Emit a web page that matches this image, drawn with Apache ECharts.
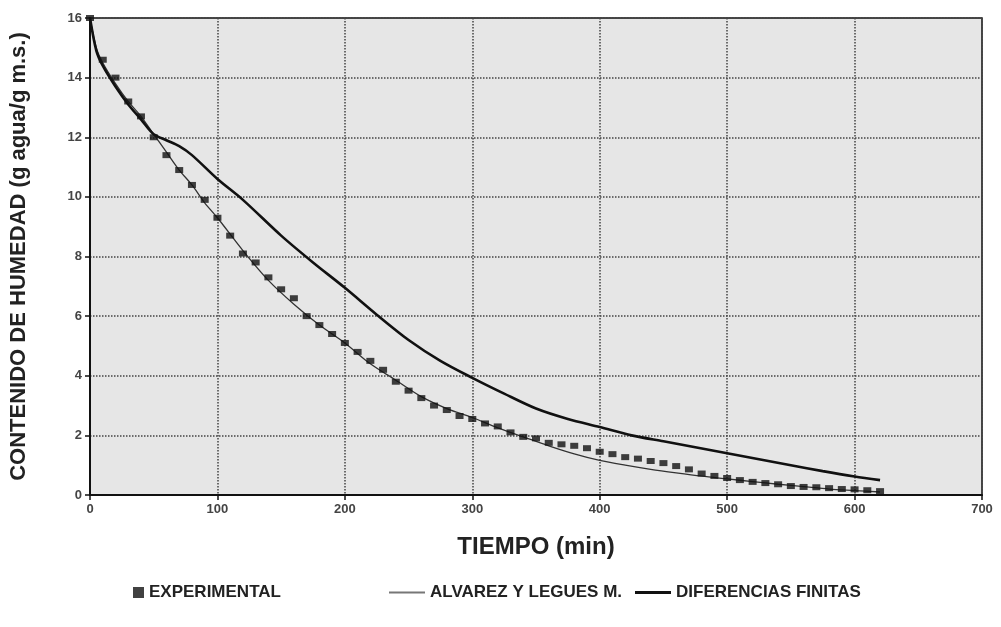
<!DOCTYPE html>
<html>
<head>
<meta charset="utf-8">
<script src="https://cdn.jsdelivr.net/npm/echarts@6/dist/echarts.min.js"></script>
<style>
  html, body { margin: 0; padding: 0; background: #fff; }
  #chart { width: 1001px; height: 627px; }
</style>
</head>
<body>
<div id="chart"></div>
<script>
// datos
const expTime = [0, 10, 20, 30, 40, 50, 60, 70, 80, 90, 100, 110, 120, 130, 140, 150, 160, 170, 180, 190,
  200, 210, 220, 230, 240, 250, 260, 270, 280, 290, 300, 310, 320, 330, 340, 350, 360, 370, 380, 390,
  400, 410, 420, 430, 440, 450, 460, 470, 480, 490, 500, 510, 520, 530, 540, 550, 560, 570, 580, 590,
  600, 610, 620];
const expMoisture = [16, 14.6, 14.0, 13.2, 12.7, 12.0, 11.4, 10.9, 10.4, 9.9, 9.3, 8.7, 8.1, 7.8, 7.3, 6.9, 6.6, 6.0, 5.7, 5.4,
  5.1, 4.8, 4.5, 4.2, 3.8, 3.5, 3.25, 3.0, 2.85, 2.65, 2.55, 2.4, 2.3, 2.1, 1.95, 1.9, 1.75, 1.7, 1.65, 1.57,
  1.45, 1.37, 1.27, 1.22, 1.14, 1.07, 0.97, 0.86, 0.72, 0.64, 0.57, 0.5, 0.44, 0.4, 0.36, 0.3, 0.27, 0.26, 0.23, 0.2,
  0.19, 0.16, 0.13];

const alvTime = [0, 5, 10, 20, 30, 40, 50, 60, 70, 80, 90, 100, 120, 140, 160, 180, 200, 220, 240, 260,
  280, 300, 320, 340, 360, 380, 400, 420, 440, 460, 480, 500, 520, 540, 560, 580, 600, 620];
const alvMoisture = [16, 15.0, 14.5, 13.8, 13.2, 12.7, 12.1, 11.5, 10.9, 10.4, 9.8, 9.3, 8.2, 7.2, 6.4, 5.7, 5.1, 4.4, 3.85, 3.3,
  2.9, 2.6, 2.25, 1.95, 1.65, 1.38, 1.16, 1.0, 0.86, 0.74, 0.63, 0.54, 0.45, 0.36, 0.28, 0.2, 0.15, 0.1];

const dfTime = [0, 5, 10, 20, 30, 40, 50, 60, 70, 80, 100, 120, 150, 175, 200, 225, 250, 275, 300, 325,
  350, 375, 400, 425, 450, 475, 500, 525, 550, 575, 600, 620];
const dfMoisture = [16, 14.9, 14.4, 13.7, 13.1, 12.6, 12.1, 11.9, 11.7, 11.4, 10.6, 9.9, 8.7, 7.8, 6.95, 6.05, 5.2, 4.5, 3.93, 3.4,
  2.9, 2.55, 2.28, 2.0, 1.8, 1.6, 1.4, 1.2, 1.0, 0.8, 0.62, 0.5];

const xTicks = [0, 100, 200, 300, 400, 500, 600, 700];
const yTicks = [0, 2, 4, 6, 8, 10, 12, 14, 16];

const pair = (xs, ys) => xs.map((x, i) => [x, ys[i]]);

const font = "'Liberation Sans Narrow', 'Liberation Sans', Arial, sans-serif";
const legendText = { fontFamily: font, fontWeight: 'bold', fontSize: 17, color: '#222' };

const chart = echarts.init(document.getElementById('chart'), null, { renderer: 'canvas' });
chart.setOption({
  animation: false,
  backgroundColor: '#fff',
  grid: {
    left: 90, right: 19, top: 18, bottom: 132,
    outerBoundsMode: 'none',
    show: true,
    backgroundColor: '#e6e6e6',
    borderColor: '#111',
    borderWidth: 1.5
  },
  xAxis: {
    type: 'value',
    min: xTicks[0], max: xTicks[xTicks.length - 1], interval: 100,
    name: 'TIEMPO (min)',
    nameLocation: 'middle',
    nameGap: 40,
    nameTextStyle: { fontFamily: font, fontWeight: 'bold', fontSize: 24, color: '#222' },
    axisLine: { lineStyle: { color: '#111', width: 2 } },
    axisTick: { show: true, length: 5, lineStyle: { color: '#111', width: 1.5 } },
    axisLabel: { fontFamily: font, fontWeight: 'bold', fontSize: 13, color: '#444', margin: 8 },
    splitLine: { show: true, lineStyle: { color: '#444', type: 'dotted', width: 1.5 } }
  },
  yAxis: {
    type: 'value',
    min: yTicks[0], max: yTicks[yTicks.length - 1], interval: 2,
    name: 'CONTENIDO DE HUMEDAD (g agua/g m.s.)',
    nameLocation: 'middle',
    nameGap: 60,
    nameTextStyle: { fontFamily: font, fontWeight: 'bold', fontSize: 22, color: '#222' },
    axisLine: { show: true, lineStyle: { color: '#111', width: 2 } },
    axisTick: { show: true, length: 5, lineStyle: { color: '#111', width: 1.5 } },
    axisLabel: { fontFamily: font, fontWeight: 'bold', fontSize: 13, color: '#444', margin: 8 },
    splitLine: { show: true, lineStyle: { color: '#444', type: 'dotted', width: 1.5 } }
  },
  legend: [
    {
      data: [{ name: 'EXPERIMENTAL', icon: 'rect' }], left: 128, top: 579,
      itemWidth: 11, itemHeight: 11,
      textStyle: legendText
    },
    {
      data: [{ name: 'ALVAREZ Y LEGUES M.', icon: 'rect' }], left: 384, top: 579,
      itemWidth: 36, itemHeight: 2,
      textStyle: legendText
    },
    {
      data: [{ name: 'DIFERENCIAS FINITAS', icon: 'rect' }], left: 630, top: 579,
      itemWidth: 36, itemHeight: 3,
      textStyle: legendText
    }
  ],
  series: [
    {
      name: 'ALVAREZ Y LEGUES M.',
      type: 'line',
      data: pair(alvTime, alvMoisture),
      smooth: 0.3,
      symbol: 'none',
      lineStyle: { color: '#333', width: 1.3 },
      itemStyle: { color: '#777' },
      z: 3
    },
    {
      name: 'DIFERENCIAS FINITAS',
      type: 'line',
      data: pair(dfTime, dfMoisture),
      smooth: 0.3,
      symbol: 'none',
      lineStyle: { color: '#111', width: 2.6 },
      itemStyle: { color: '#111' },
      z: 4
    },
    {
      name: 'EXPERIMENTAL',
      type: 'scatter',
      data: pair(expTime, expMoisture),
      symbol: 'rect',
      symbolSize: [8, 6],
      itemStyle: { color: '#111' },
      z: 5
    }
  ]
});
</script>
</body>
</html>
